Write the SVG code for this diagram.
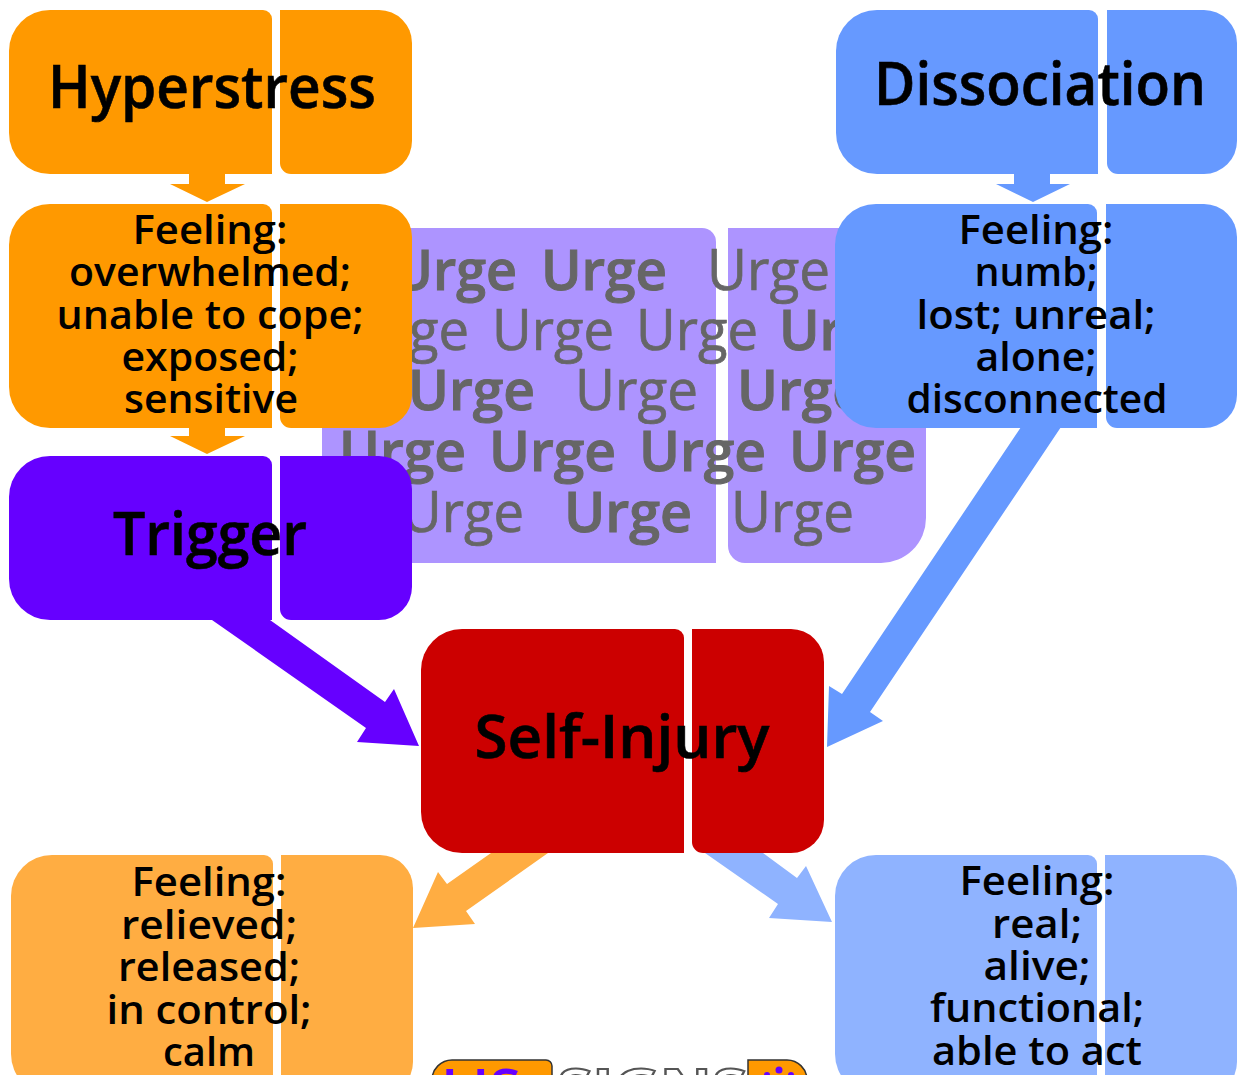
<svg xmlns="http://www.w3.org/2000/svg" width="1237" height="1075" viewBox="0 0 1237 1075">
<style>
text{font-family:"Open Sans","Noto Sans","DejaVu Sans",sans-serif;text-anchor:middle;fill:#000}
.t{font-size:59px;font-weight:600;stroke:#000;stroke-width:.6px}
.f{font-size:40px;font-weight:600}
.u{font-size:56px;fill:#666;text-anchor:start;font-weight:500;stroke:#666;stroke-width:.7px}
.b{font-weight:600;stroke-width:1px}
.or{fill:#f90}.bl{fill:#69f}.pu{fill:#60f}.re{fill:#c00}.lo{fill:#ffad42}.lb{fill:#8fb3ff}.ur{fill:#ad94ff}
</style>
<rect width="1237" height="1075" fill="#fff"/>
<g id="urge">
<path class="ur" d="M322 228H702A14 14 0 0 1 716 242V563H362A40 40 0 0 1 322 523Z"/>
<path class="ur" d="M728 228H926V518A45 45 0 0 1 881 563H745A17 17 0 0 1 728 546Z"/>
<g>
<text class="u b" x="393" y="290" textLength="124" lengthAdjust="spacingAndGlyphs">Urge</text><text class="u b" x="541" y="290" textLength="126" lengthAdjust="spacingAndGlyphs">Urge</text><text class="u" x="707" y="290" textLength="123" lengthAdjust="spacingAndGlyphs">Urge</text>
<text class="u" x="347" y="350" textLength="122" lengthAdjust="spacingAndGlyphs">Urge</text><text class="u" x="492" y="350" textLength="122" lengthAdjust="spacingAndGlyphs">Urge</text><text class="u" x="636" y="350" textLength="122" lengthAdjust="spacingAndGlyphs">Urge</text><text class="u b" x="779" y="350" textLength="126" lengthAdjust="spacingAndGlyphs">Urge</text>
<text class="u b" x="408" y="410" textLength="127" lengthAdjust="spacingAndGlyphs">Urge</text><text class="u" x="575" y="410" textLength="123" lengthAdjust="spacingAndGlyphs">Urge</text><text class="u b" x="737" y="410" textLength="127" lengthAdjust="spacingAndGlyphs">Urge</text>
<text class="u b" x="339" y="471" textLength="127" lengthAdjust="spacingAndGlyphs">Urge</text><text class="u b" x="489" y="471" textLength="127" lengthAdjust="spacingAndGlyphs">Urge</text><text class="u b" x="639" y="471" textLength="127" lengthAdjust="spacingAndGlyphs">Urge</text><text class="u b" x="789" y="471" textLength="127" lengthAdjust="spacingAndGlyphs">Urge</text>
<text class="u" x="402" y="532" textLength="122" lengthAdjust="spacingAndGlyphs">Urge</text><text class="u b" x="564" y="532" textLength="128" lengthAdjust="spacingAndGlyphs">Urge</text><text class="u" x="731" y="532" textLength="123" lengthAdjust="spacingAndGlyphs">Urge</text>
</g>
</g>
<g id="connectors">
<path class="or" d="M189 174H225V184H245L207 202L170 184H189Z"/>
<path class="or" d="M189 428H225V436H245L207 454L170 436H189Z"/>
<path class="bl" d="M1014 174H1050V184H1070L1033 202L996 184H1014Z"/>
<path class="pu" d="M212 620H270L385 702L394 689L419 746L357 742L366 728Z"/>
<path class="bl" d="M1021 427H1061L870 712L883 721L827 747L829 686L842 694Z"/>
<path class="lo" d="M491 853H548L466 911L475 924L413 928L438 872L447 884Z"/>
<path class="lb" d="M705 853H763L797 878L806 866L832 922L769 918L778 904Z"/>
</g>
<g id="hyperstress">
<path class="or" d="M50 10H263A9 9 0 0 1 272 19V174H50A41 41 0 0 1 9 133V51A41 41 0 0 1 50 10Z"/>
<path class="or" d="M280 10H379A33 33 0 0 1 412 43V141A33 33 0 0 1 379 174H291A11 11 0 0 1 280 163Z"/>
<text class="t" x="212" y="108" textLength="328" lengthAdjust="spacingAndGlyphs">Hyperstress</text>
</g>
<g id="feeling-stress">
<path class="or" d="M50 204H263A9 9 0 0 1 272 213V428H50A41 41 0 0 1 9 387V245A41 41 0 0 1 50 204Z"/>
<path class="or" d="M280 204H379A33 33 0 0 1 412 237V395A33 33 0 0 1 379 428H291A11 11 0 0 1 280 417Z"/>
<text class="f" x="210" y="244" textLength="155" lengthAdjust="spacingAndGlyphs">Feeling:</text>
<text class="f" x="210" y="286" textLength="282" lengthAdjust="spacingAndGlyphs">overwhelmed;</text>
<text class="f" x="210" y="329" textLength="307" lengthAdjust="spacingAndGlyphs">unable to cope;</text>
<text class="f" x="210" y="371" textLength="177" lengthAdjust="spacingAndGlyphs">exposed;</text>
<text class="f" x="211" y="413" textLength="174" lengthAdjust="spacingAndGlyphs">sensitive</text>
</g>
<g id="trigger">
<path class="pu" d="M50 456H263A9 9 0 0 1 272 465V620H50A41 41 0 0 1 9 579V497A41 41 0 0 1 50 456Z"/>
<path class="pu" d="M280 456H379A33 33 0 0 1 412 489V587A33 33 0 0 1 379 620H291A11 11 0 0 1 280 609Z"/>
<text class="t" x="210" y="555" textLength="194" lengthAdjust="spacingAndGlyphs">Trigger</text>
</g>
<g id="dissociation">
<path class="bl" d="M877 10H1089A9 9 0 0 1 1098 19V174H877A41 41 0 0 1 836 133V51A41 41 0 0 1 877 10Z"/>
<path class="bl" d="M1107 10H1204A33 33 0 0 1 1237 43V141A33 33 0 0 1 1204 174H1118A11 11 0 0 1 1107 163Z"/>
<text class="t" x="1040" y="105" textLength="332" lengthAdjust="spacingAndGlyphs">Dissociation</text>
</g>
<g id="feeling-dissociation">
<path class="bl" d="M876 204H1088A9 9 0 0 1 1097 213V428H876A41 41 0 0 1 835 387V245A41 41 0 0 1 876 204Z"/>
<path class="bl" d="M1106 204H1204A33 33 0 0 1 1237 237V395A33 33 0 0 1 1204 428H1117A11 11 0 0 1 1106 417Z"/>
<text class="f" x="1036" y="244" textLength="155" lengthAdjust="spacingAndGlyphs">Feeling:</text>
<text class="f" x="1036" y="286" textLength="123" lengthAdjust="spacingAndGlyphs">numb;</text>
<text class="f" x="1036" y="329" textLength="239" lengthAdjust="spacingAndGlyphs">lost; unreal;</text>
<text class="f" x="1036" y="371" textLength="121" lengthAdjust="spacingAndGlyphs">alone;</text>
<text class="f" x="1037" y="413" textLength="261" lengthAdjust="spacingAndGlyphs">disconnected</text>
</g>
<g id="self-injury">
<path class="re" d="M462 629H675A9 9 0 0 1 684 638V853H462A41 41 0 0 1 421 812V670A41 41 0 0 1 462 629Z"/>
<path class="re" d="M692 629H791A33 33 0 0 1 824 662V820A33 33 0 0 1 791 853H703A11 11 0 0 1 692 842Z"/>
<text class="t" x="622" y="758" textLength="295" lengthAdjust="spacingAndGlyphs">Self-Injury</text>
</g>
<g id="feeling-relief">
<path class="lo" d="M52 855H264A9 9 0 0 1 273 864V1095H52A41 41 0 0 1 11 1054V896A41 41 0 0 1 52 855Z"/>
<path class="lo" d="M281 855H380A33 33 0 0 1 413 888V1062A33 33 0 0 1 380 1095H292A11 11 0 0 1 281 1084Z"/>
<text class="f" x="209" y="896" textLength="155" lengthAdjust="spacingAndGlyphs">Feeling:</text>
<text class="f" x="209" y="939" textLength="176" lengthAdjust="spacingAndGlyphs">relieved;</text>
<text class="f" x="209" y="981" textLength="182" lengthAdjust="spacingAndGlyphs">released;</text>
<text class="f" x="209" y="1024" textLength="205" lengthAdjust="spacingAndGlyphs">in control;</text>
<text class="f" x="209" y="1066" textLength="92" lengthAdjust="spacingAndGlyphs">calm</text>
</g>
<g id="feeling-real">
<path class="lb" d="M876 855H1088A9 9 0 0 1 1097 864V1095H876A41 41 0 0 1 835 1054V896A41 41 0 0 1 876 855Z"/>
<path class="lb" d="M1105 855H1204A33 33 0 0 1 1237 888V1062A33 33 0 0 1 1204 1095H1116A11 11 0 0 1 1105 1084Z"/>
<text class="f" x="1037" y="895" textLength="155" lengthAdjust="spacingAndGlyphs">Feeling:</text>
<text class="f" x="1037" y="938" textLength="90" lengthAdjust="spacingAndGlyphs">real;</text>
<text class="f" x="1037" y="980" textLength="107" lengthAdjust="spacingAndGlyphs">alive;</text>
<text class="f" x="1037" y="1022" textLength="214" lengthAdjust="spacingAndGlyphs">functional;</text>
<text class="f" x="1037" y="1065" textLength="210" lengthAdjust="spacingAndGlyphs">able to act</text>
</g>
<g id="logo">
<path d="M452 1060H546A6 6 0 0 1 552 1066V1090H432V1080A20 20 0 0 1 452 1060Z" fill="#f90" stroke="#333" stroke-width="1.5"/>
<path d="M748 1060H787A20 20 0 0 1 807 1080V1090H748Z" fill="#f90" stroke="#333" stroke-width="1.5"/>
<text x="481" y="1107" style="font-size:52px;font-weight:600;fill:#60f" textLength="80" lengthAdjust="spacingAndGlyphs">LIS</text>
<text x="652" y="1106" style="font-size:52px;font-weight:700;fill:#fff;stroke:#555;stroke-width:2px" textLength="190" lengthAdjust="spacingAndGlyphs">SIGNS</text>
<circle cx="779" cy="1070" r="3.5" fill="#60f"/><circle cx="767" cy="1075" r="3" fill="#60f"/><circle cx="791" cy="1075" r="3" fill="#60f"/>
</g>
</svg>
